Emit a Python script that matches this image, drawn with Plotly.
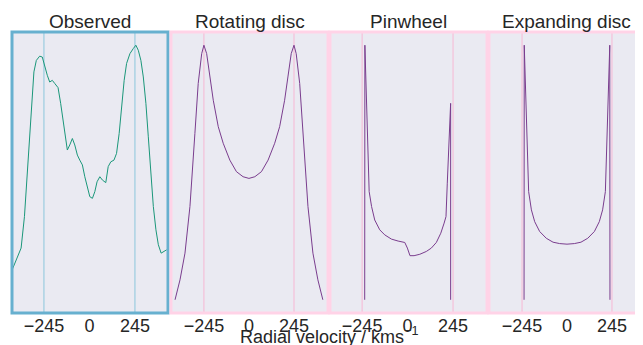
import plotly.graph_objects as go

# ---------------- data (normalised flux) ----------------
obs_v = [-416, -395, -368, -350, -331, -313, -299, -286, -268, -254, -241, -227, -214, -200,
         -187, -169, -155, -142, -130, -119, -106, -92, -79, -65, -52, -38, -25, -13, 2, 16,
         29, 41, 56, 70, 88, 101, 115, 132, 146, 160, 173, 187, 200, 218, 236, 250, 263, 277,
         290, 304, 317, 331, 344, 358, 371, 386, 398, 416]
obs_f = [0.154, 0.189, 0.231, 0.343, 0.544, 0.722, 0.858, 0.899, 0.914, 0.911, 0.876, 0.846,
         0.822, 0.828, 0.817, 0.802, 0.746, 0.686, 0.615, 0.580, 0.598, 0.621, 0.598, 0.562,
         0.544, 0.527, 0.485, 0.450, 0.414, 0.408, 0.432, 0.467, 0.485, 0.473, 0.464, 0.521,
         0.538, 0.544, 0.568, 0.639, 0.734, 0.828, 0.888, 0.923, 0.941, 0.953, 0.935, 0.899,
         0.840, 0.746, 0.627, 0.497, 0.379, 0.296, 0.243, 0.213, 0.219, 0.225]

rot_v = [-402, -375, -348, -321, -294, -276, -257, -245, -230, -212, -194, -167, -140, -104,
         -68, -32, 0, 32, 68, 104, 140, 167, 194, 212, 230, 245, 257, 276, 294, 321, 348, 375, 402]
rot_f = [0.047, 0.118, 0.213, 0.379, 0.639, 0.817, 0.923, 0.953, 0.923, 0.840, 0.757, 0.663,
         0.604, 0.544, 0.503, 0.485, 0.479, 0.485, 0.503, 0.544, 0.604, 0.663, 0.757, 0.840,
         0.923, 0.953, 0.923, 0.817, 0.639, 0.379, 0.213, 0.118, 0.047]

pin_v = [-231, -230, -207, -194, -177, -150, -123, -87, -51, -15, -1, 13, 35, 66, 101, 128,
         155, 179, 197, 207, 214, 221, 228, 232, 232]
pin_f = [0.047, 0.953, 0.432, 0.379, 0.331, 0.296, 0.278, 0.263, 0.256, 0.251, 0.231, 0.204,
         0.204, 0.209, 0.219, 0.231, 0.251, 0.284, 0.320, 0.343, 0.462, 0.580, 0.663, 0.746,
         0.047]

exp_v = [-234, -233, -209, -194, -176, -149, -113, -76, -40, 0, 40, 76, 113, 149, 176, 194,
         209, 233, 234]
exp_f = [0.047, 0.953, 0.432, 0.367, 0.325, 0.290, 0.266, 0.252, 0.247, 0.245, 0.247, 0.252,
         0.266, 0.290, 0.325, 0.367, 0.432, 0.953, 0.047]

titles = ["Observed", "Rotating disc", "Pinwheel", "Expanding disc"]
tick_vals = [-245, 0, 245]
tick_text = ["\u2212245", "0", "245"]
marker_v = [-245, 245]

# ---------------- layout / style ----------------
# the page body adds an 8px margin, so the figure is laid out 8px up/left of the window
OFF = 8
W, H = 643 - OFF, 345 - OFF
top_px, bot_px = 32 - OFF, 313 - OFF
panels_px = [(12, 168), (171, 328), (330, 487), (489, 643)]
panels_px = [(a - OFF, b - OFF) for a, b in panels_px]
ranges = [[-417, 423], [-424, 430], [-418, 428], [-425, 414]]
series = [(obs_v, obs_f), (rot_v, rot_f), (pin_v, pin_f), (exp_v, exp_f)]
line_cols = ["#1b977a", "#7a3d8e", "#7a3d8e", "#7a3d8e"]
border_cols = ["#67b0cf", "#ffd3e7", "#ffd3e7", "#ffd3e7"]
vline_cols = ["#8cc6dc", "#f7b8d4", "#f7b8d4", "#f7b8d4"]
bg = "#eaeaf2"
txt = "#262626"
font = "Liberation Sans, Arial, sans-serif"

fig = go.Figure()
ydom = [1 - bot_px / H, 1 - top_px / H]
shapes, annotations = [], []
for i in range(4):
    n = "" if i == 0 else str(i + 1)
    xa, ya = "x" + n, "y" + n
    v, f = series[i]
    fig.add_trace(go.Scatter(x=v, y=f, mode="lines", xaxis=xa, yaxis=ya,
                             line=dict(color=line_cols[i], width=1), showlegend=False,
                             hoverinfo="skip"))
    x0p, x1p = panels_px[i]
    fig.layout["xaxis" + n] = dict(domain=[x0p / W, min(1.0, x1p / W)], range=ranges[i],
                                   tickvals=tick_vals, ticktext=tick_text, showgrid=False,
                                   zeroline=False, showline=False, ticks="",
                                   tickfont=dict(size=18, color=txt, family=font),
                                   anchor=ya, fixedrange=True)
    fig.layout["yaxis" + n] = dict(domain=ydom, range=[0, 1], showgrid=False, zeroline=False,
                                   showline=False, showticklabels=False, ticks="",
                                   anchor=xa, fixedrange=True)
    x1d = 1 if i < 3 else 1.05
    shapes.append(dict(type="rect", xref=xa + " domain", yref=ya + " domain", x0=0, x1=x1d,
                       y0=0, y1=1, fillcolor=bg, line=dict(width=0), layer="below"))
    for mv in marker_v:
        shapes.append(dict(type="line", xref=xa, yref=ya + " domain", x0=mv, x1=mv, y0=0, y1=1,
                           line=dict(color=vline_cols[i], width=1), layer="below"))
    shapes.append(dict(type="rect", xref=xa + " domain", yref=ya + " domain", x0=0, x1=x1d,
                       y0=0, y1=1, line=dict(color=border_cols[i], width=3),
                       fillcolor="rgba(0,0,0,0)", layer="above"))
    annotations.append(dict(text=titles[i], xref="paper", yref="paper",
                            x=((x0p + x1p) / 2) / W, y=1 - (22 - OFF) / H, xanchor="center",
                            yanchor="middle", showarrow=False,
                            font=dict(size=19, color=txt, family=font)))

annotations.append(dict(text="Radial velocity / kms<sup>\u22121</sup>", xref="paper", yref="paper",
                        x=(328.5 - OFF) / W, y=1 - (335 - OFF) / H, xanchor="center",
                        yanchor="middle", showarrow=False,
                        font=dict(size=18, color=txt, family=font)))

fig.update_layout(width=W, height=H, margin=dict(l=0, r=0, t=0, b=0),
                  paper_bgcolor="white", plot_bgcolor="rgba(0,0,0,0)",
                  shapes=shapes, annotations=annotations)
fig.write_html("out.html")
